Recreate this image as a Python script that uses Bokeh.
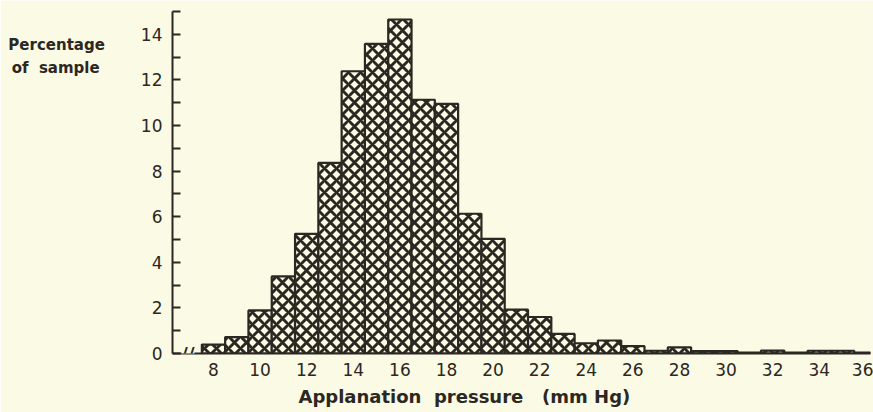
from bokeh.plotting import figure
from bokeh.models import FixedTicker, Label, Range1d, Title
from bokeh.embed import file_html
from bokeh.resources import INLINE

# Data
pressure = list(range(8, 37))
percent = [0.39, 0.72, 1.89, 3.38, 5.25, 8.36, 12.38, 13.58, 14.65, 11.13,
           10.95, 6.13, 5.03, 1.92, 1.60, 0.86, 0.45, 0.57, 0.32, 0.12,
           0.27, 0.10, 0.10, 0.04, 0.13, 0.04, 0.12, 0.12, 0.04]
y_ticks = [0, 2, 4, 6, 8, 10, 12, 14]
y_minor = [1, 3, 5, 7, 9, 11, 13, 15]
x_ticks = list(range(8, 37, 2))

BG = "#fbfae4"
INK = "#2b2722"
FONT = "DejaVu Sans"
NB = "\u00a0"

p = figure(width=873, height=412, output_backend="svg", toolbar_location=None,
           x_range=Range1d(6.24, 36.2), y_range=Range1d(0, 15),
           min_border_left=172, min_border_right=3, min_border_top=11,
           min_border_bottom=59)
p.background_fill_color = BG
p.border_fill_color = BG
p.outline_line_color = None
p.grid.visible = False

p.vbar(x=pressure, top=percent, width=1, bottom=0,
       fill_color=BG, line_color=INK, line_width=2.2,
       hatch_pattern="diagonal_cross", hatch_color=INK,
       hatch_scale=12, hatch_weight=2.9)

# y axis
ya = p.yaxis[0]
ya.ticker = FixedTicker(ticks=y_ticks, minor_ticks=y_minor)
ya.axis_line_color = INK
ya.axis_line_width = 2
ya.major_tick_in = 8
ya.major_tick_out = 0
ya.minor_tick_in = 8
ya.minor_tick_out = 0
ya.major_tick_line_color = INK
ya.major_tick_line_width = 2
ya.minor_tick_line_color = INK
ya.minor_tick_line_width = 2
ya.major_label_text_font = FONT
ya.major_label_text_font_size = "17px"
ya.major_label_text_color = INK
ya.major_label_standoff = 10
ya.axis_label = "\n".join([NB] * 4 + ["Percentage", "of" + NB + NB + "sample" + NB])
ya.axis_label_orientation = "horizontal"
ya.axis_label_align = "end"
ya.axis_label_standoff = 33
ya.axis_label_text_font = FONT
ya.axis_label_text_font_size = "15px"
ya.axis_label_text_line_height = 1.25
ya.axis_label_text_font_style = "bold"
ya.axis_label_text_color = INK

# x axis
xa = p.xaxis[0]
xa.ticker = FixedTicker(ticks=x_ticks, minor_ticks=[])
xa.axis_line_color = INK
xa.axis_line_width = 2
xa.major_tick_in = 0
xa.major_tick_out = 0
xa.minor_tick_line_color = None
xa.major_label_text_font = FONT
xa.major_label_text_font_size = "17px"
xa.major_label_text_color = INK
xa.major_label_standoff = 9

# axis break mark
p.add_layout(Label(x=6.9, y=0, text="//", text_align="center",
                   text_baseline="middle", text_font=FONT,
                   text_font_size="18px", text_font_style="bold",
                   text_color=INK, background_fill_color=BG))

# x title
p.add_layout(Title(text="Applanation" + NB + " pressure" + NB + NB + " (mm Hg)",
                   align="left", offset=126, standoff=10, text_font=FONT,
                   text_font_size="18px", text_font_style="bold",
                   text_color=INK), "below")

open("out.html", "w").write(file_html(p, INLINE))
